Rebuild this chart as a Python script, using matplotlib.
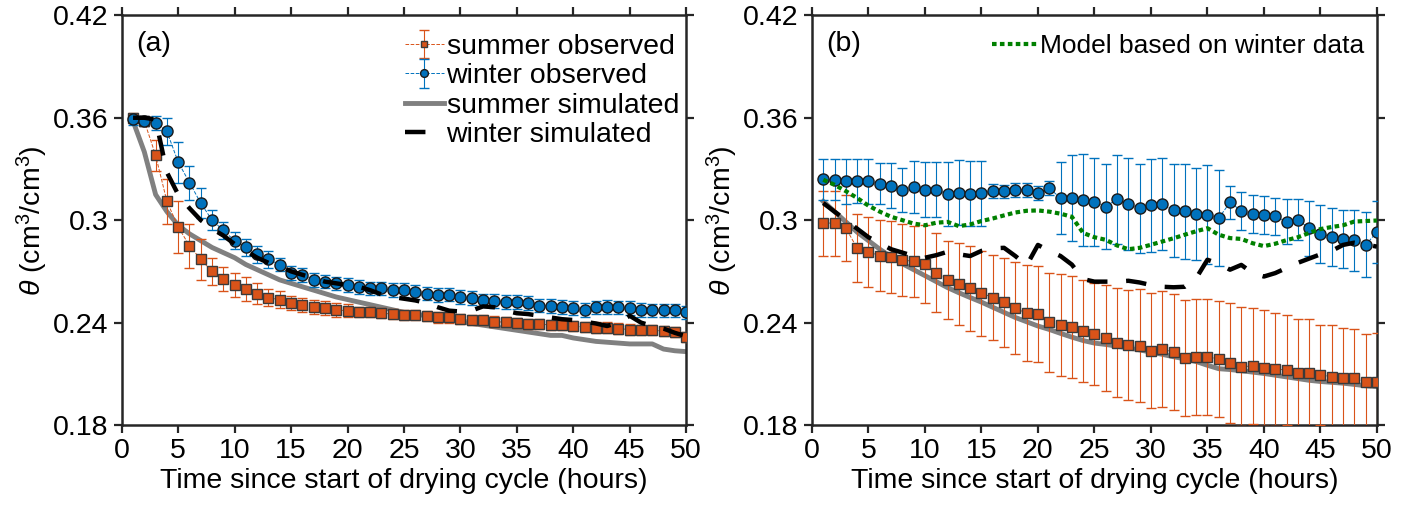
import numpy as np
import matplotlib
matplotlib.use('Agg')
import matplotlib.pyplot as plt

plt.rcParams['font.family'] = ['Liberation Sans', 'DejaVu Sans']
plt.rcParams['mathtext.fontset'] = 'custom'
plt.rcParams['mathtext.rm'] = 'Liberation Sans'
plt.rcParams['mathtext.it'] = 'Liberation Sans:italic'

hours = np.arange(1, 51)

# ---- panel (a) ----
a_summer_obs = [0.360, 0.358, 0.338, 0.311, 0.296, 0.285, 0.277, 0.270, 0.2654, 0.262,
                0.2596, 0.257, 0.2547, 0.2533, 0.2514, 0.2504, 0.249, 0.2484, 0.2474, 0.247,
                0.246, 0.2462, 0.2455, 0.245, 0.2443, 0.2443, 0.2437, 0.243, 0.243, 0.2422,
                0.2414, 0.2414, 0.2406, 0.2402, 0.2398, 0.2394, 0.2394, 0.2384, 0.2384, 0.2378,
                0.2375, 0.2371, 0.2371, 0.2365, 0.2359, 0.2355, 0.2355, 0.2351, 0.2345, 0.2314]
a_summer_err = [0.003, 0.003, 0.009, 0.013, 0.015, 0.013, 0.012, 0.008, 0.007, 0.007,
                0.007, 0.006, 0.005, 0.005, 0.004, 0.004, 0.004, 0.004, 0.004, 0.004,
                0.003, 0.003, 0.003, 0.003, 0.003, 0.003, 0.003, 0.003, 0.003, 0.003,
                0.003, 0.003, 0.003, 0.003, 0.003, 0.003, 0.003, 0.003, 0.003, 0.003,
                0.003, 0.003, 0.003, 0.003, 0.003, 0.003, 0.003, 0.003, 0.003, 0.003]
a_winter_obs = [0.359, 0.358, 0.357, 0.352, 0.334, 0.322, 0.310, 0.300, 0.294, 0.288,
                0.284, 0.280, 0.277, 0.274, 0.269, 0.268, 0.265, 0.264, 0.263, 0.262,
                0.261, 0.260, 0.260, 0.259, 0.259, 0.258, 0.257, 0.256, 0.2564, 0.255,
                0.2545, 0.253, 0.2526, 0.252, 0.252, 0.2516, 0.250, 0.2496, 0.2492, 0.2487,
                0.2475, 0.2489, 0.2493, 0.2489, 0.2485, 0.2475, 0.2471, 0.2471, 0.2471, 0.246]
a_winter_err = [0.003, 0.003, 0.004, 0.008, 0.012, 0.010, 0.009, 0.006, 0.005, 0.005,
                0.005, 0.005, 0.005, 0.004, 0.004, 0.004, 0.004, 0.004, 0.004, 0.004,
                0.004, 0.004, 0.004, 0.004, 0.004, 0.004, 0.004, 0.004, 0.004, 0.004,
                0.004, 0.004, 0.004, 0.004, 0.004, 0.004, 0.004, 0.004, 0.004, 0.004,
                0.004, 0.004, 0.004, 0.004, 0.004, 0.004, 0.004, 0.004, 0.004, 0.004]
a_summer_sim = [0.358, 0.340, 0.315, 0.305, 0.297, 0.292, 0.288, 0.284, 0.281, 0.278,
                0.274, 0.271, 0.268, 0.265, 0.263, 0.261, 0.259, 0.257, 0.255, 0.2535,
                0.252, 0.2505, 0.249, 0.2475, 0.246, 0.245, 0.244, 0.243, 0.242, 0.2405,
                0.2395, 0.2385, 0.2375, 0.2365, 0.2355, 0.2345, 0.2335, 0.2325, 0.2325, 0.231,
                0.230, 0.229, 0.2285, 0.228, 0.2275, 0.2275, 0.2275, 0.2245, 0.2235, 0.223]
a_winter_sim = [0.360, 0.360, 0.359, 0.328, 0.315, 0.307, 0.300, 0.295, 0.291, 0.286,
                0.282, 0.278, 0.275, 0.273, 0.270, 0.268, 0.266, 0.264, 0.263, 0.262,
                0.261, 0.259, 0.2565, 0.255, 0.254, 0.253, 0.2515, 0.249, 0.247, 0.2465,
                0.247, 0.2495, 0.249, 0.247, 0.2455, 0.245, 0.244, 0.243, 0.242, 0.2415,
                0.2405, 0.2395, 0.238, 0.240, 0.244, 0.240, 0.238, 0.2365, 0.234, 0.232]

# ---- panel (b) ----
b_summer_obs = [0.2983, 0.2983, 0.2953, 0.2836, 0.2813, 0.2793, 0.2783, 0.2768, 0.2758, 0.2742,
                0.2693, 0.265, 0.2625, 0.2601, 0.2572, 0.2547, 0.2519, 0.2484, 0.2455, 0.2451,
                0.2402, 0.2387, 0.2373, 0.2351, 0.2332, 0.2308, 0.2283, 0.2269, 0.2265, 0.2236,
                0.2246, 0.2226, 0.2195, 0.2201, 0.2201, 0.2185, 0.2162, 0.2142, 0.2146, 0.2133,
                0.2127, 0.2123, 0.2103, 0.2103, 0.2093, 0.2084, 0.2078, 0.2074, 0.2051, 0.2051]
b_summer_err = [0.019, 0.019, 0.0195, 0.020, 0.0205, 0.021, 0.021, 0.021, 0.021, 0.023,
                0.023, 0.023, 0.024, 0.025, 0.025, 0.025, 0.026, 0.027, 0.028, 0.028,
                0.029, 0.030, 0.030, 0.030, 0.030, 0.031, 0.032, 0.032, 0.033, 0.0335,
                0.034, 0.034, 0.034, 0.034, 0.034, 0.034, 0.035, 0.035, 0.034, 0.034,
                0.033, 0.032, 0.032, 0.032, 0.0295, 0.030, 0.029, 0.029, 0.028, 0.029]
b_winter_obs = [0.324, 0.3237, 0.3227, 0.323, 0.3227, 0.3213, 0.3203, 0.3178, 0.3194, 0.3178,
                0.3178, 0.3153, 0.3162, 0.3154, 0.3158, 0.3172, 0.3168, 0.3178, 0.3178, 0.3158,
                0.3188, 0.3129, 0.3129, 0.3119, 0.3106, 0.308, 0.3123, 0.3096, 0.307, 0.3086,
                0.3096, 0.3057, 0.3051, 0.3035, 0.3031, 0.3012, 0.3104, 0.3055, 0.3035, 0.3031,
                0.3022, 0.2992, 0.3002, 0.2953, 0.292, 0.2904, 0.2891, 0.2881, 0.2855, 0.293]
b_winter_err = [0.012, 0.012, 0.013, 0.013, 0.013, 0.012, 0.013, 0.013, 0.015, 0.016,
                0.016, 0.019, 0.019, 0.019, 0.019, 0.004, 0.004, 0.004, 0.004, 0.004,
                0.004, 0.021, 0.025, 0.027, 0.026, 0.025, 0.026, 0.027, 0.026, 0.027,
                0.027, 0.027, 0.028, 0.027, 0.029, 0.028, 0.0098, 0.011, 0.011, 0.011,
                0.011, 0.013, 0.012, 0.016, 0.017, 0.017, 0.017, 0.018, 0.019, 0.018]
b_summer_sim = [0.311, 0.305, 0.299, 0.293, 0.288, 0.283, 0.2785, 0.2745, 0.271, 0.2675,
                0.264, 0.2605, 0.2575, 0.2547, 0.252, 0.249, 0.246, 0.243, 0.2405, 0.238,
                0.236, 0.2337, 0.2315, 0.2295, 0.228, 0.2272, 0.2262, 0.2252, 0.224, 0.2227,
                0.2214, 0.220, 0.2188, 0.2172, 0.215, 0.213, 0.2125, 0.2118, 0.211, 0.2102,
                0.2092, 0.2082, 0.2072, 0.2062, 0.2055, 0.205, 0.2045, 0.2038, 0.203, 0.2025]
b_winter_sim = [0.310, 0.305, 0.300, 0.295, 0.290, 0.2865, 0.283, 0.281, 0.279, 0.278,
                0.2795, 0.2815, 0.280, 0.279, 0.282, 0.2835, 0.2838, 0.279, 0.2735, 0.2855,
                0.282, 0.279, 0.274, 0.2655, 0.264, 0.264, 0.264, 0.2645, 0.2635, 0.262,
                0.261, 0.2607, 0.261, 0.266, 0.2768, 0.2745, 0.271, 0.2738, 0.269, 0.267,
                0.269, 0.272, 0.275, 0.2775, 0.280, 0.282, 0.2855, 0.2868, 0.2858, 0.2845]
b_winter_model = [0.3237, 0.3207, 0.317, 0.313, 0.3085, 0.305, 0.302, 0.300, 0.298, 0.297,
                  0.2985, 0.299, 0.2965, 0.2975, 0.2995, 0.301, 0.3028, 0.3045, 0.3055, 0.3057,
                  0.305, 0.3038, 0.302, 0.2925, 0.290, 0.2885, 0.2852, 0.283, 0.2838, 0.2856,
                  0.2875, 0.2894, 0.2915, 0.2935, 0.2953, 0.2915, 0.2895, 0.289, 0.2865, 0.2848,
                  0.2862, 0.2883, 0.290, 0.2925, 0.2948, 0.296, 0.297, 0.2992, 0.2995, 0.2998]

x_ticks = list(range(0, 51, 5))
y_ticks = [0.18, 0.24, 0.30, 0.36, 0.42]
y_tick_labels = ['0.18', '0.24', '0.3', '0.36', '0.42']

ORANGE = '#D95319'
BLUE = '#0072BD'
FS = 20.5


def observed(ax, y, err, color, marker, ms, edge, label):
    return ax.errorbar(hours, y, yerr=err, color=color, ls='--', lw=0.7, elinewidth=0.8,
                       capsize=3.5, capthick=0.8, marker=marker, ms=ms, mfc=color,
                       mec=edge, mew=1.0, label=label, zorder=3)


def style_axes(ax, tag):
    ax.set_xlim(0, 50)
    ax.set_ylim(0.18, 0.42)
    ax.set_xticks(x_ticks)
    ax.set_yticks(y_ticks)
    ax.set_yticklabels(y_tick_labels)
    ax.tick_params(direction='out', length=6, width=1.6, labelsize=FS,
                   top=True, right=True, colors='#262626', labelcolor='black')
    for s in ax.spines.values():
        s.set_linewidth(1.8)
        s.set_color('#262626')
    ax.set_xlabel('Time since start of drying cycle (hours)', fontsize=FS, labelpad=3)
    ax.set_ylabel(r'$\theta$ (cm$^3$/cm$^3$)', fontsize=FS, labelpad=2)
    ax.text(0.025, 0.93, tag, transform=ax.transAxes, fontsize=FS, va='center')


fig = plt.figure(figsize=(14.06, 5.16), dpi=100)
ax1 = fig.add_axes([0.0866, 0.1763, 0.4014, 0.794])
ax2 = fig.add_axes([0.5775, 0.1763, 0.4018, 0.794])

# (a)
h1 = observed(ax1, a_summer_obs, a_summer_err, ORANGE, 's', 6.8, '#3a3a3a', 'summer observed')
h2 = observed(ax1, a_winter_obs, a_winter_err, BLUE, 'o', 8, '#1a1a1a', 'winter observed')
h3, = ax1.plot(hours, a_summer_sim, color='#808080', lw=3.5, label='summer simulated', zorder=2.5)
h4, = ax1.plot(hours, a_winter_sim, color='black', lw=3.2, dashes=[4.6, 4.2],
               label='winter simulated', zorder=4)
style_axes(ax1, '(a)')
ax1.legend(handles=[h1, h2, h3, h4], loc='upper right', bbox_to_anchor=(1.02, 1.0),
           frameon=False, fontsize=FS, handlelength=1.35, handletextpad=0.1,
           labelspacing=0.12, borderaxespad=0.25, markerscale=0.7)

# (b)
observed(ax2, b_summer_obs, b_summer_err, ORANGE, 's', 6.8, '#3a3a3a', 'summer observed')
observed(ax2, b_winter_obs, b_winter_err, BLUE, 'o', 8, '#1a1a1a', 'winter observed')
ax2.plot(hours, b_summer_sim, color='#808080', lw=3.5, zorder=2.5)
ax2.plot(hours, b_winter_sim, color='black', lw=3.2, dashes=[4.6, 4.2], zorder=4)
green, = ax2.plot(hours, b_winter_model, color='#008000', lw=3.0, ls=(0, (1.1, 0.8)),
                  zorder=4, label='Model based on winter data')
style_axes(ax2, '(b)')
ax2.legend(handles=[green], loc='upper right', bbox_to_anchor=(1.01, 1.0), frameon=False,
           fontsize=FS - 1.5, handlelength=1.7, handletextpad=0.1, borderaxespad=0.3)

fig.savefig('out.png', dpi=100)
